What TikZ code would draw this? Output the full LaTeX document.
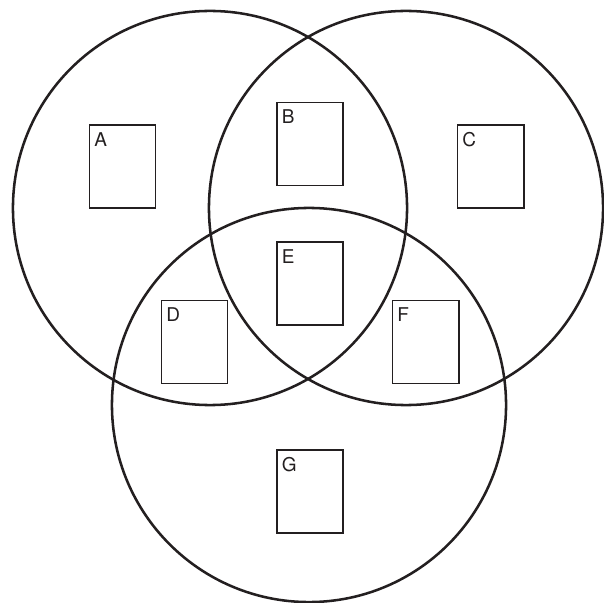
\documentclass[tikz,border=0pt]{standalone}
\usepackage{fontspec}
\setsansfont{TeX Gyre Heros}
\usepackage{xcolor}
\usepackage{tikz}
\usetikzlibrary{positioning}
\definecolor{vInk}{HTML}{231F20}
\tikzset{
  setring/.style={draw=vInk, circle, line width=1.8pt, minimum size=9.85cm, inner sep=0pt},
  regionbox/.style={draw=vInk, line width=1.4pt, minimum width=1.65cm, minimum height=2.075cm,
    inner sep=0pt, fill=white},
  regionlabel/.style={anchor=north west, inner sep=0pt, font=\sffamily\fontsize{13.5}{14}\selectfont,
    text=vInk, xshift=0.14cm, yshift=-0.2cm},
}

\begin{document}
\begin{tikzpicture}[x=0.025cm, y=-0.025cm]
  \useasboundingbox (0,0) rectangle (604,603);
  % the three sets
  \node[setring] (left) at (210,208) {};
  \node[setring] (right) at (406,208) {};
  \node[setring] (bottom) at (309,405) {};
  % one box per region
  \node[regionbox] (A) at (122.5,166.5) {};
  \node[regionbox] (B) at (310,144) {};
  \node[regionbox] (C) at (490.5,166.5) {};
  \node[regionbox] (E) at (310,283.5) {};
  \node[regionbox] (D) at (194.5,342) {};
  \node[regionbox] (F) at (425.5,342) {};
  \node[regionbox] (G) at (310,491.5) {};
  \node[regionlabel] (labA) at (A.north west) {A};
  \node[regionlabel] (labB) at (B.north west) {B};
  \node[regionlabel] (labC) at (C.north west) {C};
  \node[regionlabel] (labE) at (E.north west) {E};
  \node[regionlabel] (labD) at (D.north west) {D};
  \node[regionlabel] (labF) at (F.north west) {F};
  \node[regionlabel] (labG) at (G.north west) {G};
\end{tikzpicture}
\end{document}
